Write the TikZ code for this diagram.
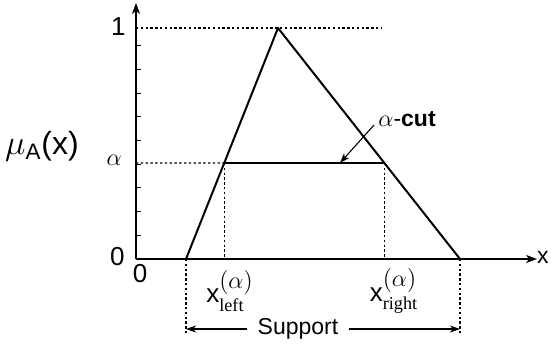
\documentclass[tikz,border=0pt]{standalone}
\usepackage{amsmath}
\usepackage{fontspec}
\setmainfont{Liberation Sans}
\setsansfont{Liberation Sans}
\newfontfamily\serif{Liberation Serif}
\usetikzlibrary{arrows.meta, positioning, calc}

\begin{document}
\begin{tikzpicture}[
    x=0.5pt, y=0.5pt,
    axis/.style={line width=0.8pt, -{Stealth[length=5.5pt, width=4pt, inset=1.6pt]}},
    member/.style={line width=1pt, line join=round},
    guide/.style={line width=0.55pt, dash pattern=on 1.2pt off 1.2pt},
    cut/.style={line width=0.55pt},
    pointer/.style={line width=0.55pt, -{Stealth[length=5pt, width=3.5pt, inset=1.4pt]}},
    lbl/.style={font=\fontsize{11.5}{13}\selectfont, inner sep=1pt},
    big/.style={font=\fontsize{13}{15}\selectfont, inner sep=1pt}
]
\useasboundingbox (0,0) rectangle (551,344);

% Axes
\coordinate (O) at (136,85);
\coordinate (ytop) at (136,341);
\coordinate (xend) at (537,85);
\draw[axis] (O) -- (ytop);
\draw[axis] (O) -- (xend);
\node[lbl, anchor=east] (xlab) at (551,87) {x};

% ticks on the membership axis
\foreach \k in {1,...,9}
  \draw[line width=0.5pt] (136,85+23.7*\k) -- (141,85+23.7*\k);

% Membership function (triangle)
\coordinate (A) at (186,85);
\coordinate (P) at (278,316);
\coordinate (B) at (460,85);
\draw[member] (A) -- (P) -- (B);

% alpha-cut
\coordinate (L) at ($(A)!96/231!(P)$);
\coordinate (R) at ($(B)!96/231!(P)$);
\draw[cut] (L) -- (R);

% Axis labels
\node[big, anchor=east] (one) at (128,317) {1};
\node[big, anchor=east] (alab) at (124,184) {$\alpha$};
\node[big, anchor=east] (zero) at (127,87) {0};
\node[big] (zerox) at (140,70) {0};
\node[font=\fontsize{16}{18}\selectfont] (mu) at (42,198) {$\mu_{\text{A}}$(x)};

% Guide lines
\coordinate (ya) at (136,181);
\coordinate (y1) at (136,316);
\coordinate (top) at (382,316);
\coordinate (Lb) at (L |- O);
\coordinate (Rb) at (R |- O);
\coordinate (Ad) at (186,10);
\coordinate (Bd) at (460,10);
\draw[guide] (y1) -- (P) -- (top);
\draw[guide] (ya) -- (L);
\draw[guide] (L) -- (Lb);
\draw[guide] (R) -- (Rb);
\draw[guide] (A) -- (Ad);
\draw[guide] (B) -- (Bd);

% x labels
\node[big] (xl) at (230,53) {x$^{\textstyle(\alpha)}_{\text{\serif left}}$};
\node[big] (xr) at (394,53) {x$^{\textstyle(\alpha)}_{\text{\serif right}}$};

% Support
\node[lbl, inner xsep=5pt] (sup) at (298,15) {Support};
\coordinate (sl) at (A |- sup);
\coordinate (sr) at (B |- sup);
\draw[pointer] (sup) -- (sl);
\draw[pointer] (sup) -- (sr);

% alpha-cut label
\node[lbl, anchor=west] (cutlab) at (376,225) {$\alpha$-\textbf{cut}};
\coordinate (cutend) at (340,181);
\draw[pointer] (374,219) -- (cutend);

\end{tikzpicture}
\end{document}
